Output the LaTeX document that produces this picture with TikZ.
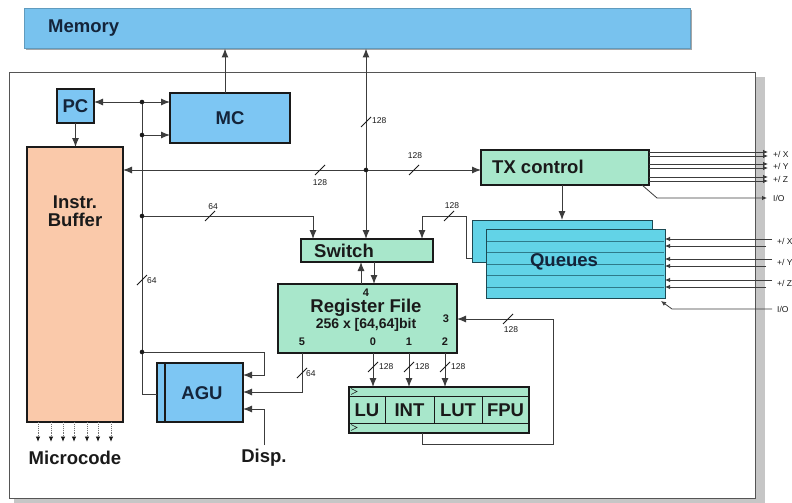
\documentclass[tikz,border=0pt]{standalone}
\usepackage{fontspec}
\setmainfont{Liberation Sans}
\usetikzlibrary{arrows.meta}

\definecolor{memblue}{HTML}{78C2EE}
\definecolor{unitblue}{HTML}{7DC6F3}
\definecolor{mint}{HTML}{A8E7CB}
\definecolor{peach}{HTML}{FAC9AA}
\definecolor{qcyan}{HTML}{62D3E7}
\definecolor{qline}{HTML}{2E7A8A}
\definecolor{navy}{HTML}{14243A}
\definecolor{ink}{HTML}{1A1A1A}
\definecolor{wirecol}{HTML}{3C3C3C}
\definecolor{framecol}{HTML}{555555}
\definecolor{shadowcol}{HTML}{C6C6C6}

\tikzset{
  unit/.style={draw=ink, line width=1.2pt, anchor=north west, inner sep=0pt, outer sep=0pt},
  bigtxt/.style={font=\fontsize{18.5pt}{18pt}\selectfont\bfseries, inner sep=0pt, text=ink},
  subtxt/.style={font=\fontsize{14pt}{15pt}\selectfont\bfseries, inner sep=0pt, text=ink},
  porttxt/.style={font=\fontsize{11pt}{12pt}\selectfont\bfseries, inner sep=0pt, text=ink},
  widthtxt/.style={font=\fontsize{8.5pt}{9pt}\selectfont, inner sep=0pt, text=ink},
  edgetxt/.style={font=\fontsize{8.5pt}{9pt}\selectfont, inner sep=0pt, anchor=west, text=ink},
  wire/.style={draw=wirecol, line width=1pt},
  arr/.style={wire, -{Latex[length=9pt,width=7pt]}},
  biarr/.style={wire, {Latex[length=9pt,width=7pt]}-{Latex[length=9pt,width=7pt]}},
  pinarr/.style={wire, line width=0.8pt, -{Latex[length=5pt,width=4.5pt]}},
  slashline/.style={draw=ink, line width=0.9pt},
  junction/.style={fill=ink},
  microarr/.style={draw=black!55, densely dotted, line width=0.9pt, -{Latex[length=5.5pt,width=4.5pt,fill=ink,color=ink]}},
}
% bus width marker: short diagonal stroke across a wire
\newcommand\buswidth[2]{\draw[slashline] (#1,#2) ++(-5,5) -- ++(10,-10);}

\begin{document}
\begin{tikzpicture}[x=1pt,y=-1pt]
\useasboundingbox (0,0) rectangle (792,503);

% chip frame with drop shadow
\fill[shadowcol] (14,77) rectangle (765,503);
\draw[framecol, fill=white, line width=1pt] (9,72) rectangle (755,498);

% memory bar
\fill[black!35] (25.5,10) rectangle (691.5,50);
\node[anchor=north west, fill=memblue, draw=memblue!80!black, line width=0.5pt,
      minimum width=666pt, minimum height=40pt, inner sep=0pt] (mem) at (24,8) {};
\node[bigtxt, text=navy, anchor=west] (memlbl) at (48,28) {Memory};

% functional blocks
\node[unit, fill=unitblue, minimum width=37pt, minimum height=34pt, bigtxt, text=navy] (pc) at (57,89) {PC};
\node[unit, fill=unitblue, minimum width=120pt, minimum height=50pt, bigtxt, text=navy] (mc) at (170,93) {MC};
\node[unit, fill=peach, minimum width=96pt, minimum height=275pt] (buf) at (27,147) {};
\node[bigtxt, align=center] (buflbl) at (75,211) {Instr.\\Buffer};
\node[unit, fill=mint, minimum width=168pt, minimum height=35pt] (tx) at (481,150) {};
\node[bigtxt, anchor=west] (txlbl) at (492,167) {TX control};
\node[unit, fill=mint, minimum width=132pt, minimum height=23pt] (sw) at (301,239) {};
\node[bigtxt, anchor=west] (swlbl) at (314,251) {Switch};
\node[unit, fill=mint, minimum width=179pt, minimum height=69pt] (rf) at (278,284) {};
\node[bigtxt] (rflbl) at (366,308) {Register File};
\node[subtxt] (rfsize) at (366,325) {256 x [64,64]bit};

% queues: two stacked register banks
\node[unit, fill=qcyan, draw=qline!60!black, line width=1pt, minimum width=180pt, minimum height=42pt] (qback) at (472,220) {};
\node[unit, fill=qcyan, draw=qline!60!black, line width=1pt, minimum width=179pt, minimum height=69pt] (queues) at (486,229) {};
\foreach \y in {241,252,264,275,287} \draw[qline, line width=0.7pt] (487,\y) -- (664,\y);
\node[bigtxt, text=navy] (qlbl) at (564,262) {Queues};

% execution units
\node[unit, fill=mint, minimum width=180pt, minimum height=46pt] (fu) at (349,387) {};
\draw[ink, line width=1pt] (349,396) -- (529,396) (349,423) -- (529,423);
\foreach \x in {385,434,482} \draw[ink, line width=1pt] (\x,396) -- (\x,423);
\draw[ink, line width=0.6pt] (351,388.5) -- (357,391.5) -- (351,394.5);
\draw[ink, line width=0.6pt] (351,424.5) -- (357,427.5) -- (351,430.5);
\node[bigtxt] (lu) at (367,410) {LU};
\node[bigtxt] (int) at (409.5,410) {INT};
\node[bigtxt] (lut) at (458,410) {LUT};
\node[bigtxt] (fpu) at (505.5,410) {FPU};

% address generation unit
\node[unit, fill=unitblue, minimum width=86pt, minimum height=59pt] (agu) at (157,363) {};
\draw[ink, line width=1.2pt] (165,363) -- (165,422);
\node[bigtxt, text=navy] (agulbl) at (202,393) {AGU};

% register file port numbers
\node[porttxt] (p4) at (366,293) {4};
\node[porttxt] (p3) at (446,319) {3};
\node[porttxt] (p5) at (302,342) {5};
\node[porttxt] (p0) at (373,342) {0};
\node[porttxt] (p1) at (409,342) {1};
\node[porttxt] (p2) at (445,342) {2};

% junction points
\coordinate (j1) at (142,102);
\coordinate (j2) at (142,135);
\coordinate (j3) at (142,216);
\coordinate (j4) at (142,352);
\coordinate (jb) at (142,394);
\coordinate (jbus) at (366,170);

% left control bus
\draw[wire] (j1) -- (jb) -- (agu.west |- jb);
\draw[biarr] (pc.east |- j1) -- (mc.west |- j1);
\draw[arr] (j2) -- (mc.west |- j2);
\coordinate (swL) at (313,216);
\draw[arr] (j3) -- (swL) -- (sw.north -| swL);
\coordinate (aguT) at (264,352);
\draw[arr] (j4) -- (aguT) -- (aguT |- 0,375) -- (agu.east |- 0,375);

% PC to instruction buffer, MC to memory
\draw[arr] (pc.south) -- (pc.south |- buf.north);
\coordinate (mcup) at ([xshift=-5pt]mc.north);
\draw[arr] (mcup) -- (mcup |- mem.south);

% 128-bit buses
\draw[biarr] (mem.south -| jbus) -- (sw.north -| jbus);
\draw[biarr] (buf.east |- jbus) -- (tx.west |- jbus);

% queues to switch
\coordinate (qs1) at (466,258);
\coordinate (qs2) at (466,216);
\coordinate (qs3) at (422,216);
\draw[arr] (qback.west |- qs1) -- (qs1) -- (qs2) -- (qs3) -- (sw.north -| qs3);

% TX control to queues
\draw[arr] (tx.south -| 562,0) -- (qback.north -| 562,0);

% switch <-> register file
\coordinate (sr1) at (361,0);
\coordinate (sr2) at (374,0);
\draw[arr] (rf.north -| sr1) -- (sw.south -| sr1);
\draw[arr] (sw.south -| sr2) -- (rf.north -| sr2);

% register file to execution units
\foreach \x in {373,409,445} \draw[arr] (rf.south -| \x,0) -- (fu.north -| \x,0);

% result write-back loop
\coordinate (lp1) at (422,444);
\coordinate (lp2) at (553,444);
\coordinate (lp3) at (553,319);
\draw[arr] (fu.south -| lp1) -- (lp1) -- (lp2) -- (lp3) -- (rf.east |- lp3);

% port 5 to AGU
\coordinate (pt5) at (302,392);
\draw[arr] (rf.south -| pt5) -- (pt5) -- (agu.east |- pt5);

% displacement input
\node[bigtxt] (disp) at (264,458) {Disp.};
\coordinate (dispbend) at (264,409);
\draw[arr] ([yshift=4pt]disp.north) -- (dispbend) -- (agu.east |- dispbend);

% microcode outputs
\foreach \dx in {11,24,36,47,60,71,84}
  \draw[microarr] ([xshift=\dx pt]buf.south west) -- ++(0,20);
\node[bigtxt] (micro) at (75,458) {Microcode};

% junction dots
\foreach \p in {j1,j2,j3,j4,jbus} \fill[junction] (\p) circle (2.3);

% external links of TX control
\foreach \y in {152,156,164,168,177,181} \draw[pinarr] (tx.east |- 0,\y) -- (768,\y);
\draw[pinarr] ([xshift=-7pt]tx.south east) -- (657,198) -- (767,198);
\node[edgetxt] (tx1) at (773,154) {+/ X};
\node[edgetxt] (tx2) at (773,166) {+/ Y};
\node[edgetxt] (tx3) at (773,179) {+/ Z};
\node[edgetxt] (tx4) at (773,198) {I/O};

% external links of queues
\foreach \y/\e in {239/772,246/766,259/772,266/766,280/772,287/766}
  \draw[pinarr] (\e,\y) -- (queues.east |- 0,\y);
\draw[pinarr] (772,309) -- (672,309) -- ([xshift=-4pt,yshift=-3pt]queues.south east);
\node[edgetxt] (q1) at (777,241) {+/ X};
\node[edgetxt] (q2) at (777,262) {+/ Y};
\node[edgetxt] (q3) at (777,283) {+/ Z};
\node[edgetxt] (q4) at (777,309) {I/O};

% bus widths
\buswidth{366}{122}
\node[widthtxt, anchor=west] (w1) at (372,121) {128};
\buswidth{320}{170}
\node[widthtxt] (w2) at (320,183) {128};
\buswidth{414}{170}
\node[widthtxt] (w3) at (415,156) {128};
\buswidth{210}{216}
\node[widthtxt] (w4) at (213,207) {64};
\buswidth{449}{216}
\node[widthtxt] (w5) at (452,206) {128};
\buswidth{142}{280}
\node[widthtxt, anchor=west] (w6) at (147,281) {64};
\buswidth{302}{373}
\node[widthtxt, anchor=west] (w7) at (306,374) {64};
\buswidth{373}{367}
\node[widthtxt, anchor=west] (w8) at (379,367) {128};
\buswidth{409}{367}
\node[widthtxt, anchor=west] (w9) at (415,367) {128};
\buswidth{445}{367}
\node[widthtxt, anchor=west] (w10) at (451,367) {128};
\buswidth{508}{319}
\node[widthtxt] (w11) at (511,330) {128};
\end{tikzpicture}
\end{document}
